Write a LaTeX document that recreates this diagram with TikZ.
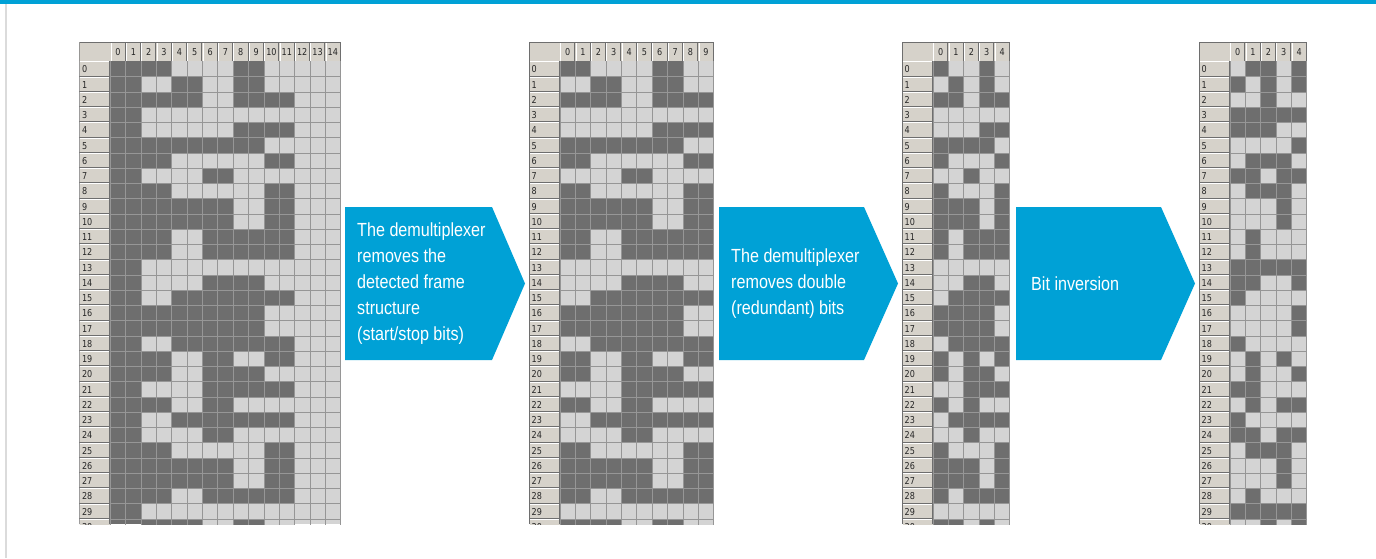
\documentclass[tikz,border=0pt]{standalone}
\usepackage{fontspec}
\setmainfont{Liberation Sans}
\newfontfamily\stepfont[FakeStretch=0.85]{Liberation Sans}
\newfontfamily\gridfont[FakeStretch=0.85]{DejaVu Sans}

\definecolor{rsblue}{RGB}{0,161,214}
\definecolor{bitdark}{RGB}{110,110,110}
\definecolor{bitlight}{RGB}{212,212,212}
\definecolor{gridline}{RGB}{150,150,150}
\definecolor{face}{RGB}{214,210,202}
\definecolor{shade}{RGB}{110,110,110}

\tikzstyle{darkbit} = [fill=bitdark]
\tikzstyle{lightbit} = [fill=bitlight]
\tikzstyle{cellline} = [draw=gridline,line width=0.6pt]
\tikzstyle{headcell} = [fill=face]
\tikzstyle{hilite} = [draw=white,line width=0.9pt]
\tikzstyle{lolite} = [draw=shade,line width=0.9pt]
\tikzstyle{colnum} = [font=\gridfont\fontsize{9.5}{10}\selectfont,text=black!85,inner sep=0pt]
\tikzstyle{rownum} = [colnum,anchor=west]
\tikzstyle{pointer} = [fill=rsblue]
\tikzstyle{steptext} = [font=\stepfont\fontsize{19}{26}\selectfont,text=white,align=left,anchor=west,inner sep=0pt]

\newcommand\cw{15.35}
\newcommand\rh{15.25}

% five data bits per row, 1 = dark
\newcommand\rowbits{%
{1,0,0,1,0},{0,1,0,1,0},{1,1,0,1,1},{0,0,0,0,0},{0,0,0,1,1},%
{1,1,1,1,0},{1,0,0,0,1},{0,0,1,0,0},{1,0,0,0,1},{1,1,1,0,1},%
{1,1,1,0,1},{1,0,1,1,1},{1,0,1,1,1},{0,0,0,0,0},{0,0,1,1,0},%
{0,1,1,1,1},{1,1,1,1,0},{1,1,1,1,0},{0,1,1,1,1},{1,0,1,0,1},%
{1,0,1,1,0},{0,0,1,1,1},{1,0,1,0,0},{0,1,1,1,1},{0,0,1,0,0},%
{1,0,0,0,1},{1,1,1,0,1},{1,1,1,0,1},{1,0,1,1,1},{0,0,0,0,0},%
{1,1,0,1,0}}

% #1 x of column 0, #2 last column, #3 name, #4 columns per bit,
% #5 first data column, #6 bit value drawn dark
\newcommand{\bitgrid}[6]{%
\begin{scope}
  \pgfmathtruncatemacro\ncol{#2+1}
  \clip (#1-31,42) rectangle (#1+\ncol*\cw+1,524);
  \fill[lightbit] (#1+#5*\cw,61.3) rectangle ++(5*#4*\cw,480);
  \foreach \bits [count=\y from 0] in \rowbits {
    \foreach \b [count=\x from 0] in \bits {
      \ifnum\b=#6 \fill[darkbit] (#1+#5*\cw+#4*\x*\cw,61.3+\y*\rh) rectangle ++(#4*\cw,\rh);\fi
    }
  }
  \foreach \x in {0,...,\ncol}
    \draw[cellline] (#1+\x*\cw,61.3) -- ++(0,480);
  \foreach \y in {1,...,31}
    \draw[cellline] (#1,61.3+\y*\rh) -- ++(\ncol*\cw,0);
  % column header
  \fill[headcell] (#1-31,42) rectangle (#1+\ncol*\cw,61.3);
  \foreach \x in {0,...,#2} {
    \draw[hilite] (#1+\x*\cw+0.8,43) -- ++(0,17.8);
    \draw[lolite] (#1+\x*\cw+\cw-0.5,42) -- ++(0,19.3);
    \node[colnum] (#3-c\x) at (#1+\x*\cw+\cw/2,52) {\x};
  }
  % row header
  \foreach \y in {0,...,30} {
    \fill[headcell] (#1-31,61.3+\y*\rh) rectangle ++(30.5,\rh);
    \draw[hilite] (#1-30.4,61.3+\y*\rh+\rh-1) -- ++(0,-\rh+1.6) -- ++(29.4,0);
    \draw[lolite] (#1-31,61.3+\y*\rh+\rh-0.5) -- ++(31,0);
    \node[rownum] (#3-r\y) at (#1-28.5,61.3+\y*\rh+\rh/2+0.5) {\y};
  }
  \draw[lolite] (#1-0.5,61.3) -- (#1-0.5,524);
  \draw[lolite] (#1-31,524) -- (#1-31,42) -- (#1+\ncol*\cw,42);
\end{scope}}

\begin{document}
\begin{tikzpicture}[x=1pt,y=-1pt]
\useasboundingbox[fill=white] (0,0) rectangle (1376,558);
\fill[rsblue] (0,0) rectangle (1376,4);
\fill[black!14] (5,4) rectangle (7,558);

% received frames: start bits, doubled data bits, stop bits
\fill[darkbit] (110.3,61.3) rectangle ++(2*\cw,462.7);
\fill[lightbit] (110.3+12*\cw,61.3) rectangle ++(3*\cw,462.7);
\bitgrid{110.3}{14}{raw}{2}{2}{1}
\bitgrid{560}{9}{doubled}{2}{0}{1}
\bitgrid{933}{4}{single}{1}{0}{1}
\bitgrid{1230}{4}{inverted}{1}{0}{0}

% processing steps
\fill[pointer] (345,207) -- (492,207) -- (525,283.5) -- (492,360) -- (345,360) -- cycle;
\node[steptext] (deframe) at (357,284) {The demultiplexer\\removes the\\detected frame\\structure\\(start/stop bits)};

\fill[pointer] (719,207) -- (864,207) -- (898,283.5) -- (864,360) -- (719,360) -- cycle;
\node[steptext] (dedouble) at (731,284) {The demultiplexer\\removes double\\(redundant) bits};

\fill[pointer] (1016,207) -- (1161,207) -- (1195,283.5) -- (1161,360) -- (1016,360) -- cycle;
\node[steptext] (invert) at (1031,284) {Bit inversion};

\end{tikzpicture}
\end{document}
